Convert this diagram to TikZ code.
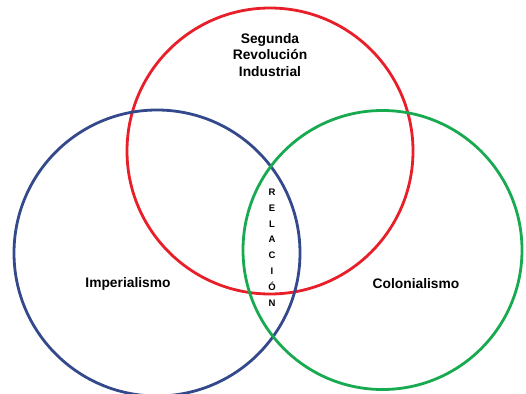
\documentclass[tikz,border=0pt]{standalone}
\usepackage{fontspec}
\setmainfont{Liberation Sans}
\usepackage{xcolor}
\usetikzlibrary{positioning}
\definecolor{revred}{RGB}{232,30,40}
\definecolor{impblue}{RGB}{52,72,140}
\definecolor{colgreen}{RGB}{24,170,80}

\begin{document}
\begin{tikzpicture}[x=1pt,y=-1pt,
  ring/.style={circle,line width=2.8pt,inner sep=0pt},
  lab/.style={font=\bfseries\fontsize{13.8}{16.8}\selectfont,align=center,inner sep=1pt},
  vert/.style={font=\bfseries\fontsize{9.5}{15.8}\selectfont,align=center,inner sep=0pt}]
\useasboundingbox (0,0) rectangle (526,393);
\node[ring,draw=revred,minimum size=286pt] (rev) at (270,151) {};
\node[ring,draw=impblue,minimum size=286pt] (imp) at (157,253) {};
\node[ring,draw=colgreen,minimum size=279pt] (col) at (382.5,250) {};
\node[lab] (revlab) at (270,55) {Segunda\\ Revolución\\ Industrial};
\node[lab] (implab) at (128,284) {Imperialismo};
\node[lab] (collab) at (416,284) {Colonialismo};
\node[vert] (rel) at (272,247.5) {R\\ E\\ L\\ A\\ C\\ I\\ Ó\\ N};
\end{tikzpicture}
\end{document}
